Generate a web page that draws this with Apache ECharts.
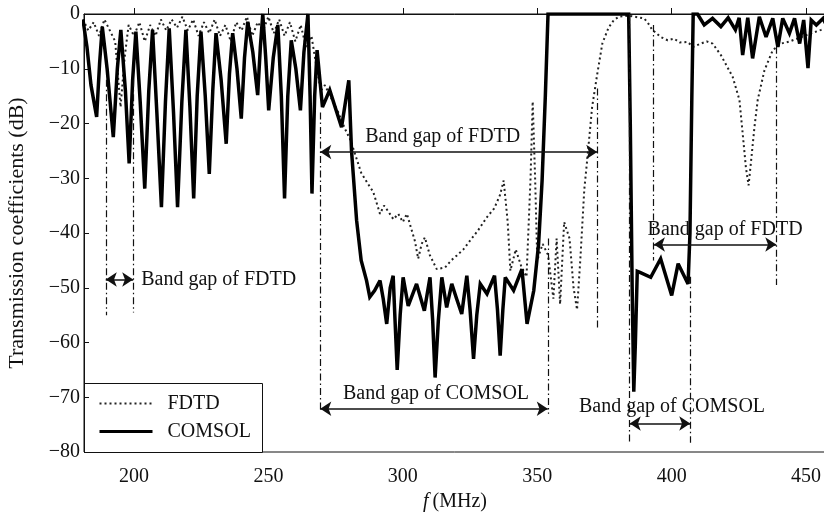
<!DOCTYPE html>
<html>
<head>
<meta charset="utf-8">
<script src="https://cdn.jsdelivr.net/npm/echarts@6/dist/echarts.min.js"></script>
<style>
  html, body { margin: 0; padding: 0; background: #fff; }
  #chart { width: 824px; height: 516px; }
</style>
</head>
<body>
<div id="chart"></div>
<script>
// 频率 (MHz) / 传输系数 (dB)
var xTicks = [200, 250, 300, 350, 400, 450];
var yTicks = [0, -10, -20, -30, -40, -50, -60, -70, -80];

var comsol = [
  [181, -1], [182.5, -6], [184, -13], [186.1, -18.8], [187.2, -9], [188.2, -2.3], [190, -10], [192.3, -22.5],
  [193.8, -10], [195.1, -2.9], [196.8, -14], [198.2, -27.3], [199.5, -12], [200.7, -3.2], [202.3, -16], [204, -31.9],
  [205.5, -14], [206.9, -2.9], [208.5, -18], [210.2, -35.3], [211.7, -16], [213.1, -2.6], [214.7, -18], [216.2, -35.3],
  [217.8, -16], [219.3, -2.9], [220.8, -17], [222.2, -33.7], [223.5, -15], [224.9, -3.2], [226.5, -15], [228, -29.2],
  [229.3, -14], [230.5, -3.5], [232.4, -12], [234.3, -23.7], [235.5, -11], [236.7, -3.5], [238.3, -10], [239.9, -19.1],
  [241.1, -8], [242.3, -1.4], [244.2, -7], [246, -14.8], [247, -6], [247.9, 0], [249, -8], [250.1, -17.6],
  [251.8, -8], [253.5, -2], [254.8, -15], [256, -33.7], [257.2, -15], [258.5, -4.8], [260.2, -10], [261.9, -17.6],
  [263.2, -7], [264.7, 0], [265.5, -15], [266.2, -32.8], [267.2, -15], [268.1, -6.6], [270.1, -17], [272.8, -13.9],
  [277.2, -20.7], [279.9, -12.1], [280.9, -24.9], [282.8, -37.7], [284.5, -45], [286.5, -48.7], [287.7, -51.7], [289.5, -50.5],
  [291.5, -48.7], [292.7, -52], [294, -56.6], [295.3, -50], [296.4, -47.8], [297.1, -56], [297.9, -65], [299, -55],
  [300.1, -48.1], [302, -53.3], [305.1, -49.3], [308, -54.2], [310.1, -48.1], [311.1, -56], [312, -66.4], [313.2, -56],
  [314.5, -48.1], [316.3, -53.6], [318.2, -49.3], [320, -52], [321.9, -54.8], [323.8, -47.8], [325, -54], [326.3, -63],
  [327.5, -55], [328.8, -49.3], [331.3, -51.1], [334.1, -47.8], [335.2, -54], [336.2, -62.4], [337.2, -54], [338.1, -48.1],
  [341.2, -50.5], [344.3, -46.6], [346.2, -56.6], [348.7, -50.5], [350.5, -42], [351.8, -30.4], [353, -15], [354, 0],
  [384, 0], [384.6, -20], [385.3, -50], [385.9, -69], [386.5, -60], [387.2, -47], [388.2, -47.2], [392.2, -48.1],
  [395.9, -44.7], [400, -51.4], [402.4, -45.6], [406.1, -49.3], [406.8, -40], [407.5, -15], [408, 0], [409.6, 0],
  [412.1, -2], [415.2, -0.8], [418.3, -2.3], [421, -0.7], [423.7, -2.9], [425.1, -0.7], [426.4, -7.5], [428.3, -0.7],
  [430.1, -8.1], [432.6, -0.5], [435.1, -4.2], [437.6, -0.8], [439.5, -6], [441.3, -0.8], [443.8, -3.5], [445.7, -0.8],
  [447.6, -5.4], [449.1, -1.1], [450.7, -9.9], [451.9, -1.1], [453.8, -2], [456.3, -0.8], [457.5, -2]
];

var fdtd = [
  [181, -1], [183, -3], [185, -1.5], [187, -4], [189, -1], [191, -3], [193, -5], [195, -17],
  [196.5, -8], [198, -2], [200, -4], [202, -1.5], [204, -5], [206, -2], [208, -4], [210, -1],
  [212, -3], [214, -1], [216, -2.5], [218, -0.5], [220, -3], [222, -1], [224, -4], [226, -1.5],
  [228, -3.5], [230, -1], [232, -4], [234, -2], [236, -5], [238, -1.5], [240, -3], [242, -0.5],
  [244, -4], [246, -1.5], [248, -3], [250, -0.5], [252, -3.5], [254, -1], [256, -4], [258, -1.5],
  [260, -5], [262, -2], [264, -6], [266, -4], [268, -10], [269.5, -14], [271, -13], [273, -15],
  [276, -18], [278.5, -21], [280.5, -23], [282.5, -26], [284.5, -29], [287, -31], [289, -32.5], [291.5, -36.5],
  [293, -35], [294.5, -36], [296.5, -37.5], [298.3, -36.5], [300, -38], [301.5, -36.5], [303, -39], [304.5, -41.5],
  [305.7, -44.7], [307, -42], [308.2, -40.8], [310, -44], [312.6, -46.6], [315.7, -46.3], [318, -45], [320.1, -44.1],
  [322.5, -43], [325, -41.4], [328, -39.5], [331.3, -37.1], [334, -35.5], [336.2, -33], [337.5, -30.4], [339, -38],
  [340, -46.9], [342, -43], [344, -46], [346, -48], [347.5, -30], [348.3, -16], [349.2, -30], [350, -45],
  [352, -42], [354, -44], [356, -52], [357.2, -41], [358.5, -53], [360, -38], [362, -41], [363.5, -50],
  [364.8, -54], [366, -45], [367.5, -32], [368.7, -26], [370.4, -17], [372.3, -11], [374.2, -5.4], [376.5, -2.5],
  [378.5, -1.1], [380.4, -0.5], [384, -0.3], [389.7, -0.8], [391, -1.5], [392.8, -2.9], [395.9, -4.2], [398.5, -4.8],
  [400.9, -4.5], [403, -5.2], [405.9, -5.1], [408, -6], [410.9, -5.4], [413, -5], [415.2, -5.4], [418.3, -7.5],
  [420.5, -9.5], [422.7, -11.5], [425.2, -15.7], [426.4, -21.8], [427.6, -28], [428.6, -31.3], [429.5, -27], [430.8, -20.6],
  [432, -15.7], [434.5, -10.3], [437.6, -6.6], [440.7, -5.4], [444, -5], [448.2, -4.2], [452, -3.5], [455.6, -2.9],
  [457.5, -2.5]
];

// 带隙边界 [频率, 起点dB, 终点dB]
var gapEdges = [
  [189.5, -12, -55], [199.7, -12, -54.5],
  [269.3, -18, -72.8], [372.3, -13.6, -57.5], [353.9, -41, -73],
  [393.1, -2, -45], [438.9, -6, -49.5],
  [384.4, 0, -78.3], [406.9, -48, -78.3]
];
// 带隙箭头 [起点频率, 终点频率, dB, 文字]
var gapArrows = [
  [189.5, 199.7, -48.5, 'Band gap of FDTD'],
  [269.3, 372.3, -25.2, 'Band gap of FDTD'],
  [269.3, 353.9, -72.1, 'Band gap of COMSOL'],
  [393.4, 438.9, -42.1, 'Band gap of FDTD'],
  [384.4, 406.9, -74.8, 'Band gap of COMSOL']
];
var labelShift = [[0, 0], [-16, 0], [2, 0], [10, 0], [12, -2]];

var serif = '"Liberation Serif", "DejaVu Serif", serif';
var chart = echarts.init(document.getElementById('chart'));

var markData = [];
gapEdges.forEach(function (e) {
  markData.push([
    { coord: [e[0], e[1]], symbol: 'none', lineStyle: { type: [7, 3, 1.5, 3], width: 1.2, color: '#111' }, label: { show: false } },
    { coord: [e[0], e[2]], symbol: 'none' }
  ]);
});
gapArrows.forEach(function (a, i) {
  var lab = {
    show: true, formatter: a[3], color: '#111', fontFamily: serif, fontSize: 20,
    position: 'insideMiddleTop', distance: 5, offset: labelShift[i]
  };
  if (i === 0) { lab.position = 'end'; lab.distance = 8; }
  markData.push([
    { coord: [a[0], a[2]], symbol: 'arrow', symbolSize: 11, lineStyle: { type: 'solid', width: 1.5, color: '#111' }, label: lab },
    { coord: [a[1], a[2]], symbol: 'arrow', symbolSize: 11 }
  ]);
});

var option = {
  animation: false,
  backgroundColor: '#fff',
  textStyle: { fontFamily: serif },
  grid: {
    left: 84, top: 14, right: -2, bottom: 64,
    outerBoundsMode: 'none',
    show: true, borderColor: '#111', borderWidth: 1
  },
  xAxis: {
    type: 'value',
    min: 181.4,
    max: 457.4,
    name: '{i|f}\u2009(MHz)',
    nameLocation: 'middle',
    nameGap: 29,
    nameTextStyle: {
      color: '#111', fontSize: 20, fontFamily: serif, verticalAlign: 'top',
      rich: { i: { fontStyle: 'italic', fontSize: 20, fontFamily: serif, color: '#111' } }
    },
    axisLine: { lineStyle: { color: '#111', width: 1 } },
    axisTick: { inside: true, length: 6, customValues: xTicks, lineStyle: { color: '#111' } },
    axisLabel: { customValues: xTicks, color: '#111', fontSize: 20, fontFamily: serif, margin: 15 },
    splitLine: { show: false }
  },
  yAxis: {
    type: 'value',
    min: -80,
    max: 0,
    interval: 10,
    name: 'Transmission coefficients (dB)',
    nameLocation: 'middle',
    nameGap: 56,
    nameTextStyle: { color: '#111', fontSize: 22, fontFamily: serif },
    axisLine: { show: true, lineStyle: { color: '#111', width: 1 } },
    axisTick: { inside: true, length: 5, customValues: yTicks, lineStyle: { color: '#111' } },
    axisLabel: {
      color: '#111', fontSize: 20, fontFamily: serif, margin: 4,
      formatter: function (v) { return String(v).replace('-', '\u2212'); }
    },
    splitLine: { show: false }
  },
  series: [
    {
      name: 'FDTD',
      type: 'line',
      data: fdtd,
      showSymbol: false,
      lineStyle: { color: '#222', width: 2, type: [2, 3] },
      z: 2
    },
    {
      name: 'COMSOL',
      type: 'line',
      data: comsol,
      showSymbol: false,
      lineStyle: { color: '#000', width: 3.5, join: 'miter', miterLimit: 3 },
      z: 3
    },
    {
      name: 'gaps',
      type: 'line',
      data: [],
      z: 4,
      markLine: {
        silent: true,
        animation: false,
        symbol: 'none',
        data: markData
      }
    }
  ],
  graphic: [
    {
      type: 'group', left: 84, top: 383, z: 100,
      children: [
        { type: 'rect', shape: { x: 0, y: 0, width: 178, height: 69 }, style: { fill: '#fff', stroke: '#111', lineWidth: 1 } },
        { type: 'line', shape: { x1: 15, y1: 20, x2: 68, y2: 20 }, style: { stroke: '#222', lineWidth: 2, lineDash: [2, 3] } },
        { type: 'text', style: { x: 83, y: 20, text: 'FDTD', fill: '#111', font: '20px ' + serif, verticalAlign: 'middle' } },
        { type: 'line', shape: { x1: 15, y1: 48, x2: 68, y2: 48 }, style: { stroke: '#000', lineWidth: 3 } },
        { type: 'text', style: { x: 83, y: 48, text: 'COMSOL', fill: '#111', font: '20px ' + serif, verticalAlign: 'middle' } }
      ]
    }
  ]
};
chart.setOption(option);
</script>
</body>
</html>
